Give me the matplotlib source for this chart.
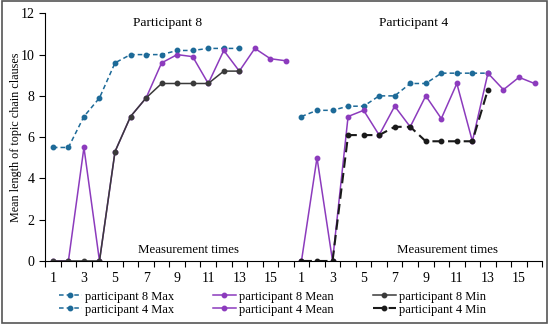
import matplotlib.pyplot as plt
import numpy as np
from matplotlib.patches import Rectangle

times = list(range(1, 17))
p8_max = [5.5, 5.5, 7.0, 7.9, 9.6, 10.0, 10.0, 10.0, 10.2, 10.2, 10.3, 10.3, 10.3]
p8_mean = [0, 0, 5.5, 0, 5.3, 7.0, 7.9, 9.6, 10.0, 9.9, 8.6, 10.2, 9.2, 10.3, 9.8, 9.7]
p8_min = [0, 0, 0, 0, 5.3, 7.0, 7.9, 8.6, 8.6, 8.6, 8.6, 9.2, 9.2]
p4_max = [7.0, 7.3, 7.3, 7.5, 7.5, 8.0, 8.0, 8.6, 8.6, 9.1, 9.1, 9.1, 9.1]
p4_mean = [0, 5.0, 0, 7.0, 7.3, 6.1, 7.5, 6.5, 8.0, 6.9, 8.6, 5.8, 9.1, 8.3, 8.9, 8.6]
p4_min = [0, 0, 0, 6.1, 6.1, 6.1, 6.5, 6.5, 5.8, 5.8, 5.8, 5.8, 8.3]

plt.rcParams['font.family'] = 'Liberation Serif'

blue = '#1d6a98'
purple = '#8c3bbd'

fig = plt.figure(figsize=(5.5, 3.25), dpi=100)
ax = fig.add_axes([0.082, 0.197, 0.904, 0.762])

# participant 4 sits after participant 8 on the same axis
x8 = np.array(times)
x4 = x8 + len(times)

ms = 3.2
lines = []
lines += ax.plot(x8[:len(p8_max)], p8_max, color=blue, ls=(0, (3, 2)), lw=1.1,
                 marker='o', ms=ms, label='participant 8 Max')
lines += ax.plot(x8, p8_mean, color=purple, lw=1.1,
                 marker='o', ms=ms, label='participant 8 Mean')
lines += ax.plot(x8[:len(p8_min)], p8_min, color='#3a3a3a', lw=1.1,
                 marker='o', ms=ms, label='participant 8 Min')
lines += ax.plot(x4[:len(p4_max)], p4_max, color=blue, ls=(0, (3, 2)), lw=1.1,
                 marker='o', ms=ms, label='participant 4 Max')
lines += ax.plot(x4, p4_mean, color=purple, lw=1.1,
                 marker='o', ms=ms, label='participant 4 Mean')
lines += ax.plot(x4[:len(p4_min)], p4_min, color='#1a1a1a', ls=(0, (5, 2.5)), lw=1.5,
                 marker='o', ms=ms, label='participant 4 Min')

ax.set_xlim(0.5, 32.5)
ax.set_ylim(0, 12)
ax.set_yticks(range(0, 13, 2))
ax.set_xticks(np.arange(0.5, 33, 1))
ax.set_xticks(np.arange(1, 33, 2), minor=True)
ax.set_xticklabels([])
ax.set_xticklabels([str(t) for t in times[::2]] * 2, minor=True)
ax.tick_params(axis='x', which='major', length=4, direction='out', width=0.8)
ax.tick_params(axis='x', which='minor', length=0, pad=8)
ax.tick_params(axis='y', length=4, width=0.8)
ax.tick_params(labelsize=10)
for s in ['top', 'right']:
    ax.spines[s].set_visible(False)
ax.set_ylabel('Mean length of topic chain clauses', fontsize=8.7)
ax.yaxis.set_label_coords(-0.047, 0.5)

ax.text(8.4, 11.55, 'Participant 8', ha='center', va='center', fontsize=9.7)
ax.text(24.2, 11.55, 'Participant 4', ha='center', va='center', fontsize=9.7)
ax.text(9.7, 0.55, 'Measurement times', ha='center', va='center', fontsize=9.3)
ax.text(26.4, 0.55, 'Measurement times', ha='center', va='center', fontsize=9.3)

order = [0, 3, 1, 4, 2, 5]
fig.legend([lines[i] for i in order], [lines[i].get_label() for i in order],
           ncol=3, loc='center', bbox_to_anchor=(0.495, 0.067), frameon=False,
           fontsize=9, handlelength=1.85, handletextpad=0.25, columnspacing=3.1,
           labelspacing=0.1, borderaxespad=0)

fig.patches.append(Rectangle((0.004, 0.006), 0.99, 0.99, transform=fig.transFigure,
                             fill=False, edgecolor='#555555', lw=1.2))

fig.savefig('out.png', dpi=100)
